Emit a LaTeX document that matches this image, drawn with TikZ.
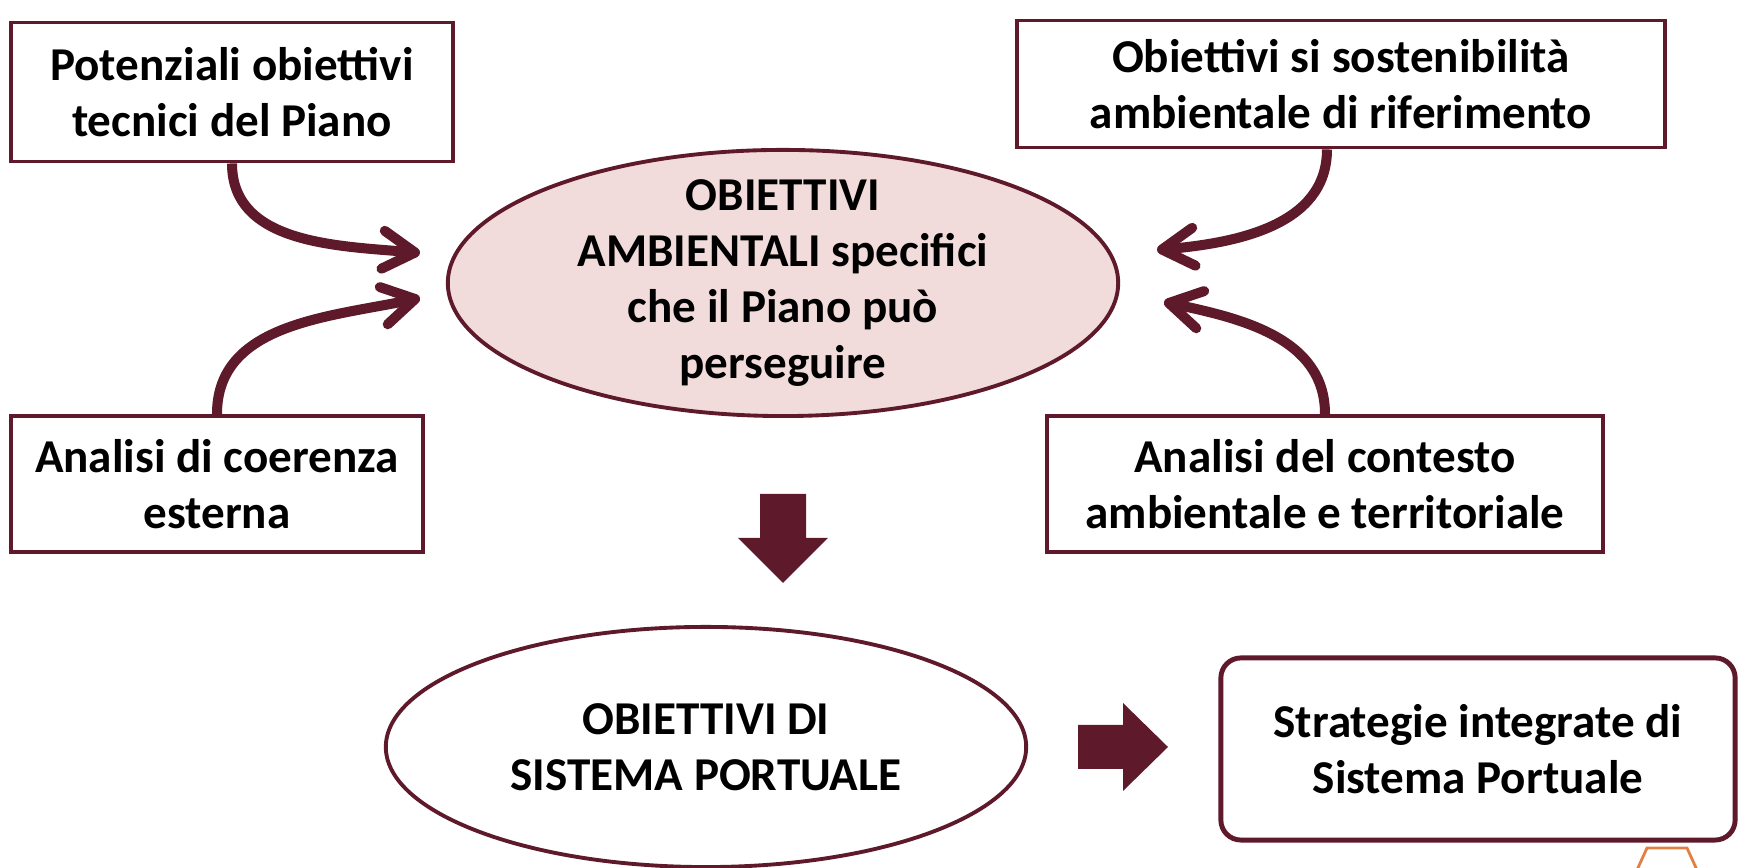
\documentclass[tikz,border=0pt]{standalone}
\usepackage{fontspec}
\setmainfont{Carlito}
\usetikzlibrary{arrows.meta,shapes.geometric}
\definecolor{vinaccia}{RGB}{94,25,42}
\definecolor{rosa}{RGB}{242,220,219}
\definecolor{arancio}{RGB}{226,128,66}
\begin{document}
\begin{tikzpicture}[x=0.01cm,y=-0.01cm,
		testo/.style={font=\fontsize{13.4pt}{16pt}\selectfont\bfseries,align=center},
		riquadro/.style={testo,draw=vinaccia,line width=1.1pt,fill=white,inner sep=0pt},
		ovale/.style={ellipse,draw=vinaccia,line width=1.1pt,inner sep=0pt},
		freccia/.style={vinaccia,line width=2.85pt,-{Straight Barb[length=3.2mm,width=3.8mm,round]}}]
	\useasboundingbox (0,0) rectangle (1741,868);
	% riquadri
	\node[riquadro,minimum width=4.42cm,minimum height=1.39cm] (potenziali) at (232,92) {Potenziali obiettivi\\tecnici del Piano};
	\node[riquadro,minimum width=6.47cm,minimum height=1.27cm] (sostenibilita) at (1341,84) {Obiettivi si sostenibilità\\ambientale di riferimento};
	\node[riquadro,minimum width=4.12cm,minimum height=1.36cm] (coerenza) at (217,484) {Analisi di coerenza\\esterna};
	\node[riquadro,minimum width=5.55cm,minimum height=1.36cm] (contesto) at (1325,484) {Analisi del contesto\\ambientale e territoriale};
	\node[riquadro,rounded corners=0.2cm,line width=1.4pt,minimum width=5.14cm,minimum height=1.82cm] (strategie) at (1478,749) {Strategie integrate di\\Sistema Portuale};
	% ovali
	\node[ovale,fill=rosa,minimum width=6.7cm,minimum height=2.66cm] (ambientali) at (783,283) {};
	\node[testo] at (ambientali) {OBIETTIVI\\AMBIENTALI specifici\\che il Piano può\\perseguire};
	\node[ovale,minimum width=6.4cm,minimum height=2.4cm] (portuale) at (706,747) {};
	\node[testo] at (portuale) {OBIETTIVI DI\\SISTEMA PORTUALE};
	% frecce curve
	\coordinate (puntaA) at (420,253);
	\coordinate (puntaB) at (420,298);
	\coordinate (puntaC) at (1157,250);
	\coordinate (puntaD) at (1164,302);
	\draw[freccia] (potenziali.south) to[out=-90,in=175] (puntaA);
	\draw[freccia] (coerenza.north) to[out=90,in=192] (puntaB);
	\draw[freccia] ([xshift=-0.14cm]sostenibilita.south) to[out=-90,in=5] (puntaC);
	\draw[freccia] (contesto.north) to[out=90,in=-12] (puntaD);
	% frecce piene
	\fill[vinaccia] (760,494) -- (806,494) -- (806,538) -- (828,538) -- (783,583) -- (738,538) -- (760,538) -- cycle;
	\fill[vinaccia] (1078,725) -- (1123,725) -- (1123,703) -- (1168,747) -- (1123,791) -- (1123,769) -- (1078,769) -- cycle;
	\draw[arancio,line width=0.8pt] (1637,870) -- (1647,848) -- (1687,848) -- (1697,870);
\end{tikzpicture}
\end{document}
